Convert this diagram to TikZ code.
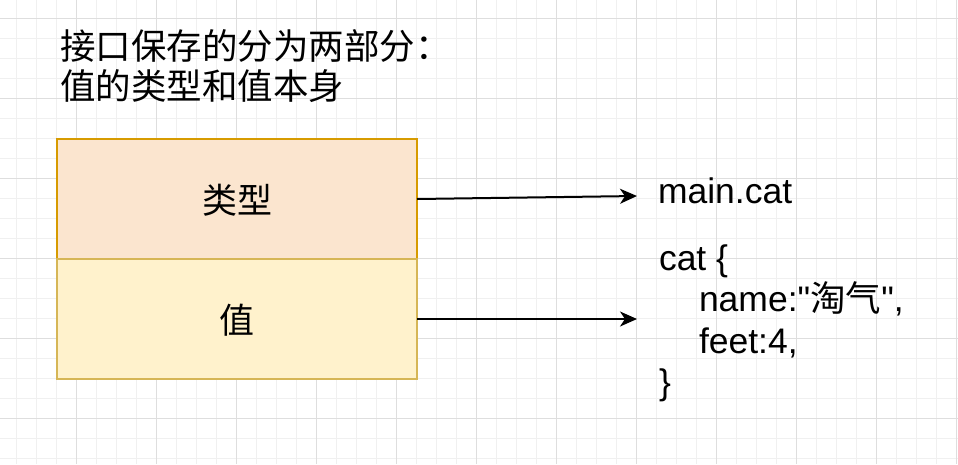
\documentclass[tikz,border=0pt]{standalone}
\usepackage{fontspec}
\setmainfont{Liberation Sans}[Ligatures=TeXOff]
\newfontfamily\cjk{Noto Sans CJK SC}
\usetikzlibrary{arrows.meta}
\definecolor{minorgrid}{HTML}{F0F0F0}
\definecolor{majorgrid}{HTML}{DEDEDE}
\definecolor{typefill}{HTML}{FBE5CF}
\definecolor{typestroke}{HTML}{D79B00}
\definecolor{valfill}{HTML}{FFF2CC}
\definecolor{valstroke}{HTML}{D6B656}
\tikzset{
  minorline/.style={draw=minorgrid, line width=1pt},
  majorline/.style={draw=majorgrid, line width=1pt},
  partbox/.style={rectangle, minimum width=360pt, minimum height=120pt, inner sep=0pt, outer sep=0pt, line width=2pt, anchor=north west},
  txt/.style={inner sep=0pt, outer sep=0pt, anchor=base west, font=\fontsize{35.5}{42}\selectfont},
  lbl/.style={inner sep=0pt, outer sep=0pt, anchor=base, font=\fontsize{35}{42}\selectfont\cjk},
  arr/.style={-{Stealth[length=17pt, width=15pt, inset=5pt]}, line width=2pt, black}
}
\begin{document}
\begin{tikzpicture}[x=1pt,y=-1pt]
\useasboundingbox[fill=white] (0,0) rectangle (958,464);
% grid
\foreach \i in {0,...,47} \draw[minorline] ({16.7+20*\i},0) -- ++(0,464);
\foreach \i in {0,...,22} \draw[minorline] (0,{18+20*\i}) -- ++(958,0);
\foreach \i in {0,...,11} \draw[majorline] ({76.7+80*\i},0) -- ++(0,464);
\foreach \i in {0,...,5} \draw[majorline] (0,{18+80*\i}) -- ++(958,0);

% title
\node[txt] (title1) at (60,59) {\cjk 接口保存的分为两部分：};
\node[txt] (title2) at (60,99) {\cjk 值的类型和值本身};

% boxes
\node[partbox, fill=typefill, draw=typestroke] (top) at (57,139) {};
\node[partbox, fill=valfill, draw=valstroke] (bot) at (57,259) {};
\node[lbl] (toplabel) at (237,213) {类型};
\node[lbl] (botlabel) at (237,333) {值};

% targets
\coordinate (t1) at (637,196);
\coordinate (t2) at (637,319);
\draw[arr] (top.east) -- (t1);
\draw[arr] (bot.east) -- (t2);

% right texts
\node[txt] (maincat) at (658,203) {main.cat};
\node[txt] (l1) at (659,270) {cat \{};
\node[txt] (l2) at (699,311.5) {name:"{\cjk 淘气}",};
\node[txt] (l3) at (699,353) {feet:4,};
\node[txt] (l4) at (659,394.5) {\}};
\end{tikzpicture}
\end{document}
